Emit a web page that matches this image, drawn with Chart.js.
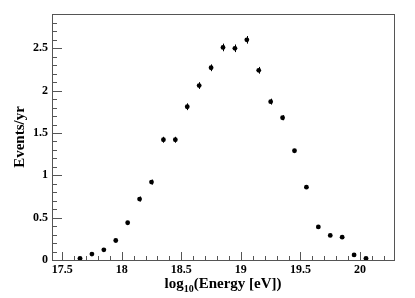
<!DOCTYPE html>
<html>
<head>
<meta charset="utf-8">
<script src="https://cdn.jsdelivr.net/npm/chart.js@4.4.1/dist/chart.umd.min.js"></script>
<style>
  html, body { margin: 0; padding: 0; background: #fff; }
  #wrap { width: 415px; height: 298px; }
</style>
</head>
<body>
<div id="wrap"><canvas id="mainChart" width="415" height="298"></canvas></div>
<script>
// -----------------------------
// DATA
// -----------------------------
const logEnergy = [17.65, 17.75, 17.85, 17.95, 18.05, 18.15, 18.25, 18.35, 18.45, 18.55,
  18.65, 18.75, 18.85, 18.95, 19.05, 19.15, 19.25, 19.35, 19.45, 19.55,
  19.65, 19.75, 19.85, 19.95, 20.05];
const eventsPerYear = [0.02, 0.07, 0.12, 0.23, 0.44, 0.72, 0.92, 1.42, 1.42, 1.81,
  2.06, 2.27, 2.51, 2.50, 2.60, 2.24, 1.87, 1.68, 1.29, 0.86,
  0.39, 0.29, 0.27, 0.06, 0.02];
const eventErrors = [0.01, 0.01, 0.015, 0.02, 0.02, 0.03, 0.03, 0.035, 0.035, 0.04,
  0.04, 0.04, 0.045, 0.045, 0.045, 0.04, 0.035, 0.03, 0.02, 0.015,
  0.01, 0.01, 0.01, 0.005, 0.005];

const xTicks = [17.5, 18, 18.5, 19, 19.5, 20];
const xTickLabels = ['17.5', '18', '18.5', '19', '19.5', '20'];
const yTicks = [0, 0.5, 1, 1.5, 2, 2.5];
const yTickLabels = ['0', '0.5', '1', '1.5', '2', '2.5'];

const xRange = [17.415, 20.285];
const yRange = [0, 2.905];

const FONT = '"Liberation Serif", "Times New Roman", serif';
const AXIS_COLOR = '#555';

// -----------------------------
// ROOT-LIKE FRAME, TICKS, ERRORS
// -----------------------------
const rootStyle = {
  id: 'rootStyle',
  afterDatasetsDraw(chart) {
    const { ctx, chartArea: a, scales: { x, y } } = chart;
    ctx.save();

    // error bars
    ctx.strokeStyle = '#000';
    ctx.lineWidth = 1;
    logEnergy.forEach((e, i) => {
      const px = Math.round(x.getPixelForValue(e)) + 0.5;
      ctx.beginPath();
      ctx.moveTo(px, y.getPixelForValue(eventsPerYear[i] - eventErrors[i]));
      ctx.lineTo(px, y.getPixelForValue(eventsPerYear[i] + eventErrors[i]));
      ctx.stroke();
    });

    // frame
    ctx.strokeStyle = AXIS_COLOR;
    ctx.lineWidth = 1;
    ctx.strokeRect(Math.round(a.left) + 0.5, Math.round(a.top) + 0.5,
      Math.round(a.right - a.left), Math.round(a.bottom - a.top));

    // ticks pointing inward, minor every 0.1
    ctx.beginPath();
    for (let k = Math.ceil(xRange[0] * 10); k <= Math.floor(xRange[1] * 10); k++) {
      const v = k / 10;
      const major = k % 5 === 0;
      const px = Math.round(x.getPixelForValue(v)) + 0.5;
      ctx.moveTo(px, a.bottom);
      ctx.lineTo(px, a.bottom - (major ? 8 : 4));
    }
    for (let k = Math.ceil(yRange[0] * 10); k <= Math.floor(yRange[1] * 10); k++) {
      const v = k / 10;
      const major = k % 5 === 0;
      const py = Math.round(y.getPixelForValue(v)) + 0.5;
      ctx.moveTo(a.left, py);
      ctx.lineTo(a.left + (major ? 10 : 5), py);
    }
    ctx.stroke();

    // x axis title with subscript
    ctx.fillStyle = '#000';
    ctx.textBaseline = 'alphabetic';
    const big = 'bold 15px ' + FONT;
    const small = 'bold 10px ' + FONT;
    const parts = [['log', big, 0], ['10', small, 4], ['(Energy [eV])', big, 0]];
    let total = 0;
    parts.forEach(p => { ctx.font = p[1]; total += ctx.measureText(p[0]).width; });
    let cx = (a.left + a.right) / 2 - total / 2;
    const base = 288;
    parts.forEach(p => {
      ctx.font = p[1];
      ctx.fillText(p[0], cx, base + p[2]);
      cx += ctx.measureText(p[0]).width;
    });

    // y axis title
    ctx.font = 'bold 15px ' + FONT;
    ctx.translate(20, (a.top + a.bottom) / 2);
    ctx.rotate(-Math.PI / 2);
    ctx.textAlign = 'center';
    ctx.textBaseline = 'middle';
    ctx.fillText('Events/yr', 0, 0);

    ctx.restore();
  }
};

// -----------------------------
// CHART.JS
// -----------------------------
const ctx = document.getElementById('mainChart').getContext('2d');

new Chart(ctx, {
  type: 'scatter',
  data: {
    datasets: [{
      data: logEnergy.map((e, i) => ({ x: e, y: eventsPerYear[i] })),
      backgroundColor: '#000',
      borderColor: '#000',
      pointRadius: 2.4,
      pointBorderWidth: 0
    }]
  },
  options: {
    responsive: false,
    animation: false,
    layout: { padding: { top: 14, right: 21, left: 0, bottom: 0 } },
    plugins: {
      legend: { display: false },
      tooltip: { enabled: false }
    },
    scales: {
      x: {
        type: 'linear',
        min: xRange[0],
        max: xRange[1],
        afterBuildTicks: s => { s.ticks = xTicks.map(v => ({ value: v })); },
        afterFit: s => { s.height = 38; },
        grid: { display: false, drawTicks: false },
        border: { display: false },
        ticks: {
          color: '#000',
          padding: 3,
          maxRotation: 0,
          font: { family: FONT, size: 12, weight: 'bold' },
          callback: (v) => xTickLabels[xTicks.indexOf(v)]
        }
      },
      y: {
        type: 'linear',
        min: yRange[0],
        max: yRange[1],
        afterBuildTicks: s => { s.ticks = yTicks.map(v => ({ value: v })); },
        afterFit: s => { s.width = 52; },
        grid: { display: false, drawTicks: false },
        border: { display: false },
        ticks: {
          color: '#000',
          padding: 4,
          font: { family: FONT, size: 12, weight: 'bold' },
          callback: (v) => yTickLabels[yTicks.indexOf(v)]
        }
      }
    }
  },
  plugins: [rootStyle]
});
</script>
</body>
</html>
